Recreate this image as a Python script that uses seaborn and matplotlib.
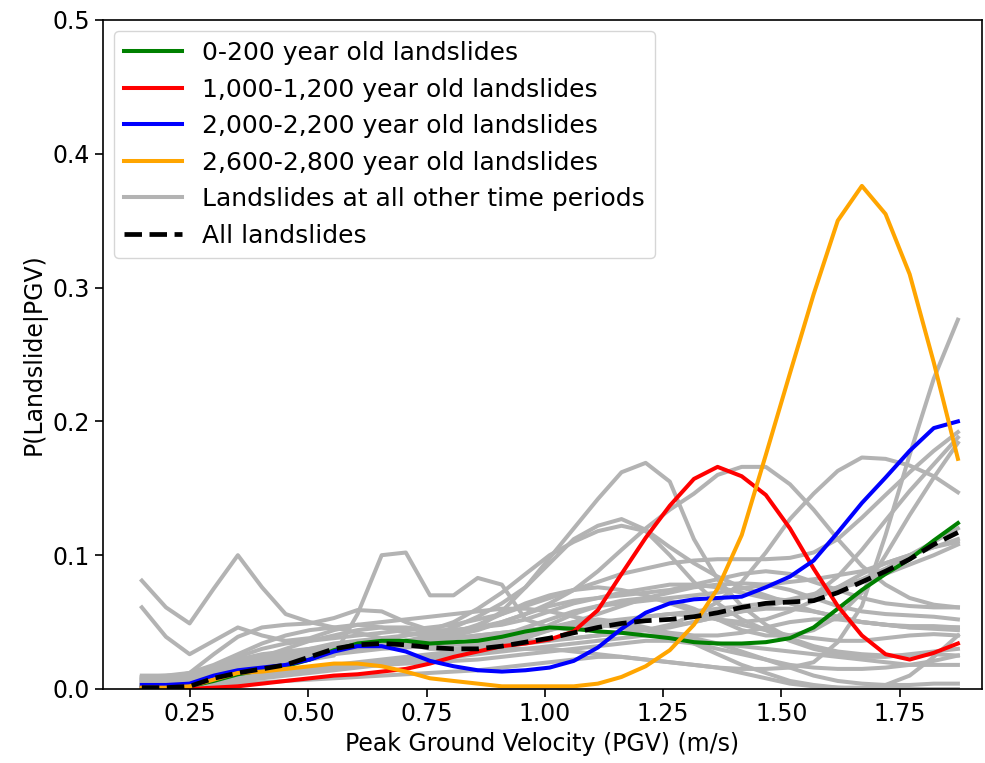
import matplotlib
matplotlib.use("Agg")
import matplotlib.pyplot as plt
import seaborn as sns
import numpy as np
import pandas as pd

plt.rcParams['font.family'] = ['DejaVu Sans']
plt.rcParams['font.size'] = 17

# PGV bin centres (m/s)
pgv = [0.148, 0.199, 0.249, 0.300, 0.351, 0.402, 0.452, 0.503, 0.554, 0.604,
       0.655, 0.706, 0.757, 0.807, 0.858, 0.909, 0.959, 1.010, 1.061, 1.112,
       1.162, 1.213, 1.264, 1.315, 1.365, 1.416, 1.467, 1.518, 1.568, 1.619,
       1.670, 1.720, 1.771, 1.822, 1.873]

green_0_200 = [0.001, 0.001, 0.002, 0.006, 0.011, 0.014, 0.017, 0.022, 0.029, 0.034,
               0.036, 0.036, 0.034, 0.035, 0.036, 0.039, 0.043, 0.046, 0.045, 0.043,
               0.042, 0.040, 0.038, 0.035, 0.034, 0.034, 0.035, 0.038, 0.046, 0.060,
               0.074, 0.086, 0.097, 0.111, 0.124]
red_1000_1200 = [0.000, 0.000, 0.000, 0.001, 0.002, 0.004, 0.006, 0.008, 0.010, 0.011,
                 0.013, 0.015, 0.019, 0.024, 0.028, 0.032, 0.034, 0.037, 0.043, 0.059,
                 0.086, 0.113, 0.137, 0.157, 0.166, 0.159, 0.145, 0.120, 0.090, 0.062,
                 0.040, 0.026, 0.022, 0.027, 0.034]
blue_2000_2200 = [0.003, 0.003, 0.004, 0.010, 0.014, 0.016, 0.018, 0.022, 0.028, 0.032,
                  0.032, 0.028, 0.021, 0.017, 0.014, 0.013, 0.014, 0.016, 0.021, 0.031,
                  0.045, 0.057, 0.064, 0.067, 0.068, 0.069, 0.076, 0.084, 0.096, 0.117,
                  0.139, 0.158, 0.178, 0.195, 0.200]
orange_2600_2800 = [0.001, 0.001, 0.002, 0.007, 0.012, 0.013, 0.015, 0.017, 0.019, 0.019,
                    0.017, 0.013, 0.008, 0.006, 0.004, 0.002, 0.002, 0.002, 0.002, 0.004,
                    0.009, 0.017, 0.029, 0.048, 0.075, 0.115, 0.175, 0.236, 0.295, 0.350,
                    0.376, 0.355, 0.310, 0.244, 0.172]
all_landslides = [0.001, 0.001, 0.002, 0.008, 0.012, 0.015, 0.018, 0.024, 0.030, 0.033,
                  0.034, 0.033, 0.031, 0.030, 0.030, 0.032, 0.035, 0.038, 0.042, 0.046,
                  0.049, 0.051, 0.052, 0.054, 0.057, 0.061, 0.064, 0.065, 0.066, 0.072,
                  0.080, 0.088, 0.097, 0.108, 0.117]

other_periods = [
    [0.081, 0.061, 0.049, 0.075, 0.100, 0.076, 0.056, 0.050, 0.046, 0.042,
     0.038, 0.034, 0.030, 0.030, 0.032, 0.036, 0.040, 0.046, 0.050, 0.052,
     0.050, 0.046, 0.042, 0.040, 0.040, 0.042, 0.046, 0.050, 0.052, 0.052,
     0.050, 0.048, 0.047, 0.047, 0.046],
    [0.061, 0.039, 0.026, 0.036, 0.046, 0.040, 0.036, 0.038, 0.044, 0.048,
     0.046, 0.042, 0.040, 0.042, 0.048, 0.056, 0.064, 0.070, 0.074, 0.076,
     0.074, 0.070, 0.064, 0.058, 0.052, 0.050, 0.052, 0.058, 0.066, 0.076,
     0.086, 0.094, 0.100, 0.106, 0.110],
    [0.008, 0.008, 0.009, 0.011, 0.014, 0.017, 0.020, 0.022, 0.025, 0.056,
     0.100, 0.102, 0.070, 0.070, 0.083, 0.078, 0.052, 0.046, 0.044, 0.046,
     0.050, 0.054, 0.056, 0.055, 0.052, 0.048, 0.044, 0.040, 0.038, 0.036,
     0.036, 0.038, 0.040, 0.041, 0.040],
    [0.005, 0.006, 0.008, 0.012, 0.016, 0.020, 0.024, 0.026, 0.028, 0.030,
     0.032, 0.034, 0.036, 0.040, 0.046, 0.058, 0.076, 0.098, 0.120, 0.142,
     0.162, 0.169, 0.155, 0.112, 0.082, 0.062, 0.048, 0.038, 0.032, 0.028,
     0.026, 0.025, 0.025, 0.026, 0.025],
    [0.003, 0.004, 0.006, 0.010, 0.014, 0.018, 0.022, 0.026, 0.030, 0.032,
     0.034, 0.036, 0.038, 0.040, 0.044, 0.050, 0.056, 0.064, 0.074, 0.088,
     0.104, 0.120, 0.134, 0.146, 0.160, 0.166, 0.166, 0.153, 0.134, 0.112,
     0.092, 0.078, 0.068, 0.063, 0.061],
    [0.004, 0.005, 0.006, 0.008, 0.010, 0.012, 0.014, 0.016, 0.018, 0.020,
     0.022, 0.024, 0.026, 0.028, 0.030, 0.032, 0.034, 0.036, 0.038, 0.040,
     0.042, 0.044, 0.048, 0.055, 0.065, 0.080, 0.102, 0.127, 0.146, 0.163,
     0.173, 0.172, 0.167, 0.159, 0.147],
    [0.002, 0.003, 0.004, 0.006, 0.008, 0.010, 0.012, 0.014, 0.016, 0.018,
     0.020, 0.022, 0.024, 0.026, 0.028, 0.030, 0.030, 0.030, 0.028, 0.026,
     0.024, 0.022, 0.020, 0.018, 0.016, 0.015, 0.015, 0.016, 0.020, 0.035,
     0.062, 0.115, 0.175, 0.232, 0.276],
    [0.006, 0.007, 0.009, 0.012, 0.016, 0.020, 0.024, 0.028, 0.030, 0.032,
     0.034, 0.036, 0.040, 0.046, 0.054, 0.064, 0.076, 0.094, 0.112, 0.122,
     0.127, 0.119, 0.106, 0.094, 0.084, 0.076, 0.070, 0.064, 0.058, 0.054,
     0.050, 0.048, 0.046, 0.046, 0.046],
    [0.007, 0.008, 0.010, 0.014, 0.018, 0.022, 0.026, 0.030, 0.034, 0.036,
     0.038, 0.040, 0.044, 0.050, 0.060, 0.072, 0.086, 0.100, 0.110, 0.118,
     0.122, 0.118, 0.100, 0.080, 0.064, 0.052, 0.044, 0.036, 0.030, 0.026,
     0.024, 0.024, 0.026, 0.028, 0.030],
    [0.009, 0.009, 0.010, 0.016, 0.024, 0.030, 0.034, 0.036, 0.038, 0.040,
     0.042, 0.044, 0.046, 0.048, 0.052, 0.056, 0.062, 0.068, 0.074, 0.080,
     0.086, 0.090, 0.094, 0.096, 0.097, 0.097, 0.097, 0.098, 0.102, 0.112,
     0.128, 0.145, 0.162, 0.178, 0.192],
    [0.004, 0.004, 0.005, 0.008, 0.012, 0.016, 0.020, 0.024, 0.028, 0.032,
     0.036, 0.040, 0.042, 0.044, 0.046, 0.048, 0.052, 0.058, 0.064, 0.068,
     0.072, 0.075, 0.078, 0.078, 0.076, 0.072, 0.068, 0.066, 0.070, 0.084,
     0.104, 0.126, 0.148, 0.168, 0.188],
    [0.003, 0.003, 0.004, 0.006, 0.008, 0.010, 0.012, 0.014, 0.016, 0.018,
     0.020, 0.022, 0.024, 0.026, 0.030, 0.034, 0.040, 0.048, 0.056, 0.062,
     0.066, 0.068, 0.066, 0.060, 0.052, 0.044, 0.040, 0.040, 0.044, 0.054,
     0.072, 0.100, 0.130, 0.158, 0.184],
    [0.010, 0.010, 0.011, 0.016, 0.022, 0.026, 0.028, 0.030, 0.032, 0.034,
     0.035, 0.036, 0.037, 0.038, 0.040, 0.042, 0.044, 0.046, 0.048, 0.050,
     0.052, 0.054, 0.056, 0.058, 0.060, 0.062, 0.064, 0.067, 0.071, 0.076,
     0.082, 0.090, 0.100, 0.110, 0.120],
    [0.008, 0.008, 0.009, 0.014, 0.020, 0.024, 0.026, 0.028, 0.030, 0.031,
     0.032, 0.032, 0.033, 0.034, 0.036, 0.040, 0.046, 0.052, 0.058, 0.062,
     0.064, 0.066, 0.068, 0.070, 0.072, 0.075, 0.078, 0.080, 0.082, 0.085,
     0.088, 0.094, 0.100, 0.106, 0.112],
    [0.006, 0.006, 0.007, 0.010, 0.014, 0.017, 0.020, 0.023, 0.026, 0.028,
     0.030, 0.031, 0.032, 0.033, 0.034, 0.035, 0.036, 0.037, 0.038, 0.040,
     0.042, 0.044, 0.047, 0.050, 0.054, 0.058, 0.062, 0.066, 0.070, 0.075,
     0.080, 0.086, 0.093, 0.100, 0.108],
    [0.002, 0.003, 0.004, 0.006, 0.008, 0.010, 0.012, 0.014, 0.016, 0.018,
     0.020, 0.022, 0.024, 0.026, 0.028, 0.032, 0.038, 0.044, 0.050, 0.056,
     0.062, 0.068, 0.072, 0.076, 0.078, 0.079, 0.078, 0.074, 0.068, 0.062,
     0.058, 0.056, 0.055, 0.054, 0.052],
    [0.009, 0.010, 0.012, 0.018, 0.026, 0.034, 0.040, 0.044, 0.046, 0.048,
     0.050, 0.052, 0.054, 0.056, 0.058, 0.060, 0.060, 0.058, 0.054, 0.050,
     0.046, 0.044, 0.046, 0.050, 0.054, 0.058, 0.060, 0.060, 0.058, 0.054,
     0.050, 0.048, 0.046, 0.045, 0.044],
    [0.003, 0.004, 0.005, 0.008, 0.012, 0.016, 0.020, 0.024, 0.028, 0.030,
     0.032, 0.034, 0.036, 0.038, 0.040, 0.042, 0.044, 0.046, 0.048, 0.048,
     0.046, 0.044, 0.040, 0.034, 0.026, 0.018, 0.012, 0.006, 0.003, 0.001,
     0.001, 0.003, 0.010, 0.024, 0.040],
    [0.001, 0.002, 0.003, 0.005, 0.007, 0.009, 0.011, 0.013, 0.015, 0.017,
     0.018, 0.019, 0.020, 0.021, 0.022, 0.024, 0.026, 0.028, 0.030, 0.032,
     0.034, 0.036, 0.036, 0.034, 0.030, 0.026, 0.022, 0.018, 0.016, 0.015,
     0.015, 0.016, 0.018, 0.021, 0.025],
    [0.002, 0.002, 0.003, 0.004, 0.006, 0.008, 0.010, 0.012, 0.014, 0.016,
     0.018, 0.020, 0.022, 0.024, 0.026, 0.028, 0.030, 0.032, 0.034, 0.036,
     0.038, 0.040, 0.040, 0.038, 0.034, 0.028, 0.022, 0.016, 0.010, 0.006,
     0.004, 0.003, 0.003, 0.004, 0.004],
    [0.001, 0.001, 0.002, 0.003, 0.004, 0.005, 0.006, 0.007, 0.008, 0.009,
     0.010, 0.011, 0.012, 0.013, 0.014, 0.016, 0.018, 0.020, 0.022, 0.024,
     0.024, 0.022, 0.020, 0.018, 0.016, 0.012, 0.008, 0.004, 0.002, 0.001,
     0.000, 0.000, 0.000, 0.000, 0.000],
    [0.007, 0.008, 0.012, 0.026, 0.039, 0.046, 0.048, 0.049, 0.053, 0.059,
     0.058, 0.050, 0.044, 0.040, 0.038, 0.038, 0.040, 0.044, 0.048, 0.050,
     0.048, 0.044, 0.040, 0.036, 0.034, 0.032, 0.030, 0.028, 0.026, 0.024,
     0.022, 0.020, 0.018, 0.018, 0.018],
    [0.005, 0.006, 0.008, 0.012, 0.018, 0.024, 0.030, 0.036, 0.040, 0.044,
     0.046, 0.046, 0.044, 0.044, 0.046, 0.050, 0.056, 0.062, 0.066, 0.068,
     0.070, 0.072, 0.074, 0.078, 0.082, 0.086, 0.088, 0.086, 0.080, 0.074,
     0.068, 0.064, 0.062, 0.061, 0.061],
]

labels = ["0-200 year old landslides", "1,000-1,200 year old landslides",
          "2,000-2,200 year old landslides", "2,600-2,800 year old landslides",
          "Landslides at all other time periods", "All landslides"]

fig = plt.figure(figsize=(9.85, 7.63), dpi=100)
ax = fig.add_axes([0.1046, 0.097, 0.8924, 0.8768])

LW = 2.9
for k, vals in enumerate(other_periods):
    sns.lineplot(x=pgv, y=vals, ax=ax, color="#b3b3b3", linewidth=LW,
                 label=labels[4] if k == 0 else None, legend=False)

sns.lineplot(x=pgv, y=green_0_200, ax=ax, color="green", linewidth=LW, label=labels[0], legend=False)
sns.lineplot(x=pgv, y=red_1000_1200, ax=ax, color="red", linewidth=LW, label=labels[1], legend=False)
sns.lineplot(x=pgv, y=blue_2000_2200, ax=ax, color="blue", linewidth=LW, label=labels[2], legend=False)
sns.lineplot(x=pgv, y=orange_2600_2800, ax=ax, color="orange", linewidth=LW, label=labels[3], legend=False)
sns.lineplot(x=pgv, y=all_landslides, ax=ax, color="black", linewidth=3.4, linestyle="--",
             label=labels[5], legend=False)

handles, labs = ax.get_legend_handles_labels()
hmap = dict(zip(labs, handles))
ax.legend([hmap[l] for l in labels], labels, loc="upper left", fontsize=18,
          handlelength=2.3, borderaxespad=0.45)

ax.set_xlim(0.066, 1.924)
ax.set_ylim(0, 0.5)
ax.set_xticks([0.25, 0.50, 0.75, 1.00, 1.25, 1.50, 1.75])
ax.set_yticks([0.0, 0.1, 0.2, 0.3, 0.4, 0.5])
ax.set_xlabel("Peak Ground Velocity (PGV) (m/s)")
ax.set_ylabel("P(Landslide|PGV)")
ax.tick_params(labelsize=17, length=6, width=1.2)
for s in ax.spines.values():
    s.set_linewidth(1.2)

fig.savefig("out.png", dpi=100)
